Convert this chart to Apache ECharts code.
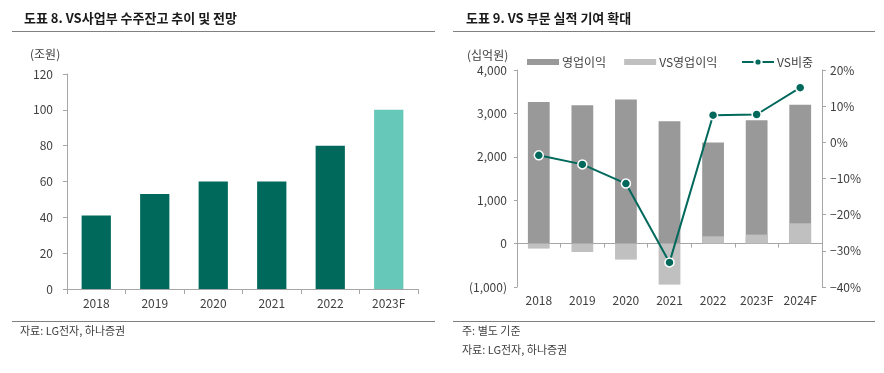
<!DOCTYPE html>
<html><head><meta charset="utf-8">
<script src="https://cdn.jsdelivr.net/npm/echarts@6/dist/echarts.min.js"></script>
<style>html,body{margin:0;padding:0;background:#fff;}#c{width:884px;height:373px;}</style>
</head><body><div id="c"></div>
<script>
// Chart 8 data
const years8 = ['2018','2019','2020','2021','2022','2023F'];
const backlog = [41, 53, 60, 60, 80, 100];
// Chart 9 data
const years9 = ['2018','2019','2020','2021','2022','2023F','2024F'];
const opProfit = [3260, 3190, 3320, 2820, 2330, 2840, 3200];
const vsOpProfit = [-115, -193, -369, -945, 168, 207, 468];
const vsShare = [-3.6, -6.1, -11.4, -33.2, 7.5, 7.7, 15.1];

const FONT = '"Noto Sans CJK KR", "Noto Sans", sans-serif';
const TXT = '#404040';
const AX = '#A6A6A6';
const DARK = '#00695C';
const LIGHT = '#66C8B8';

const chart = echarts.init(document.getElementById('c'));
const fmtK = v => {
  const s = Math.abs(v).toLocaleString('en-US');
  return v < 0 ? '(' + s + ')' : s;
};
const fmtP = v => (v < 0 ? '\u2212' + Math.abs(v) : v) + '%';

chart.setOption({
  animation: false,
  textStyle: { fontFamily: FONT },
  title: [
    { text: '도표 8. VS사업부 수주잔고 추이 및 전망', left: 19, top: 7,
      textStyle: { fontSize: 13, fontWeight: 'bold', color: '#1a1a1a', fontFamily: FONT } },
    { text: '도표 9. VS 부문 실적 기여 확대', left: 461, top: 7,
      textStyle: { fontSize: 13, fontWeight: 'bold', color: '#1a1a1a', fontFamily: FONT } }
  ],
  graphic: [
    { type: 'line', shape: { x1: 12, y1: 31.5, x2: 435, y2: 31.5 }, style: { stroke: '#808080', lineWidth: 1 } },
    { type: 'line', shape: { x1: 12, y1: 321.5, x2: 435, y2: 321.5 }, style: { stroke: '#808080', lineWidth: 1 } },
    { type: 'line', shape: { x1: 453, y1: 31.5, x2: 875, y2: 31.5 }, style: { stroke: '#808080', lineWidth: 1 } },
    { type: 'line', shape: { x1: 453, y1: 321.5, x2: 875, y2: 321.5 }, style: { stroke: '#808080', lineWidth: 1 } },
    { type: 'text', left: 30, top: 48, style: { text: '(조원)', fontSize: 12, fill: TXT, fontFamily: FONT } },
    { type: 'text', left: 467, top: 49, style: { text: '(십억원)', fontSize: 12, fill: TXT, fontFamily: FONT } },
    { type: 'text', left: 20, top: 325, style: { text: '자료: LG전자, 하나증권', fontSize: 11, fill: TXT, fontFamily: FONT } },
    { type: 'text', left: 462, top: 325, style: { text: '주: 별도 기준', fontSize: 11, fill: TXT, fontFamily: FONT } },
    { type: 'text', left: 462, top: 344, style: { text: '자료: LG전자, 하나증권', fontSize: 11, fill: TXT, fontFamily: FONT } }
  ],
  legend: [
    { left: 522, top: 51, itemWidth: 32, itemHeight: 6, itemGap: 18,
      textStyle: { fontSize: 12, color: TXT, fontFamily: FONT, padding: [0, 0, 0, -2] },
      data: [
        { name: '영업이익', icon: 'rect' },
        { name: 'VS영업이익', icon: 'rect' }
      ] },
    { left: 736, top: 51, itemWidth: 32, itemHeight: 9,
      textStyle: { fontSize: 12, color: TXT, fontFamily: FONT, padding: [0, 0, 0, -2] },
      data: [ { name: 'VS비중' } ] }
  ],
  grid: [
    { left: 67, top: 74, width: 351, height: 215 },
    { left: 517, top: 70, width: 305, height: 217 }
  ],
  xAxis: [
    { type: 'category', gridIndex: 0, data: years8,
      axisLine: { lineStyle: { color: AX } },
      axisTick: { show: true, length: 5, lineStyle: { color: AX } },
      axisLabel: { color: TXT, fontSize: 12, margin: 8 } },
    { type: 'category', gridIndex: 1, data: years9, position: 'bottom',
      axisLine: { show: false, onZero: false },
      axisTick: { show: false },
      axisLabel: { color: TXT, fontSize: 12, margin: 7 } },
    { type: 'category', gridIndex: 1, data: years9, position: 'top',
      axisLine: { show: true, onZero: true, lineStyle: { color: AX } },
      axisTick: { show: true, inside: true, length: 4, lineStyle: { color: AX } },
      axisLabel: { show: false } }
  ],
  yAxis: [
    { type: 'value', gridIndex: 0, min: 0, max: 120, interval: 20,
      axisLine: { show: true, lineStyle: { color: AX } },
      axisTick: { show: true, length: 4, lineStyle: { color: AX } },
      splitLine: { show: false },
      axisLabel: { color: TXT, fontSize: 12, margin: 14 } },
    { type: 'value', gridIndex: 1, min: -1000, max: 4000, interval: 1000, position: 'left',
      axisLine: { show: true, onZero: false, lineStyle: { color: AX } },
      axisTick: { show: true, length: 3, lineStyle: { color: AX } },
      splitLine: { show: false },
      axisLabel: { color: TXT, fontSize: 12, margin: 10, formatter: fmtK } },
    { type: 'value', gridIndex: 1, min: -40, max: 20, interval: 10, position: 'right',
      axisLine: { show: true, onZero: false, lineStyle: { color: AX } },
      axisTick: { show: true, length: 4, lineStyle: { color: AX } },
      splitLine: { show: false },
      axisLabel: { color: TXT, fontSize: 12, margin: 8, formatter: fmtP } }
  ],
  series: [
    { type: 'bar', xAxisIndex: 0, yAxisIndex: 0, barWidth: '50%',
      data: backlog.map((v, i) => ({ value: v, itemStyle: { color: i === backlog.length - 1 ? LIGHT : DARK } })) },
    { name: '영업이익', type: 'bar', xAxisIndex: 1, yAxisIndex: 1, barWidth: '50%', barGap: '-100%',
      itemStyle: { color: '#999999' }, data: opProfit },
    { name: 'VS영업이익', type: 'bar', xAxisIndex: 1, yAxisIndex: 1, barWidth: '50%', barGap: '-100%',
      itemStyle: { color: '#C0C0C0' }, data: vsOpProfit },
    { name: 'VS비중', type: 'line', xAxisIndex: 1, yAxisIndex: 2, data: vsShare, z: 5,
      symbol: 'circle', symbolSize: 9,
      lineStyle: { color: DARK, width: 2 },
      itemStyle: { color: DARK, borderColor: '#fff', borderWidth: 1.5 } }
  ]
});
</script></body></html>
